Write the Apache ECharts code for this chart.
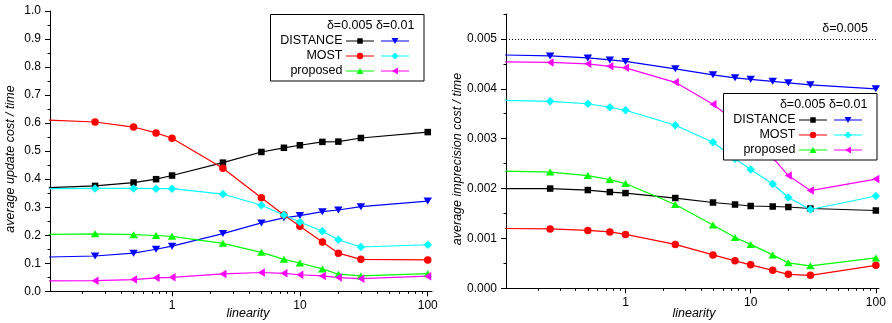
<!DOCTYPE html>
<html>
<head>
<meta charset="utf-8">
<title>Update and imprecision cost vs. linearity</title>
<script src="https://cdn.jsdelivr.net/npm/echarts@6/dist/echarts.min.js"></script>
<style>
  html, body { margin: 0; padding: 0; background: #fff; }
  #chart { width: 892px; height: 323px; }
</style>
</head>
<body>
<div id="chart"></div>
<script>
// ---- data ----
const linearity = [0.1, 0.25, 0.5, 0.75, 1, 2.5, 5, 7.5, 10, 15, 20, 30, 100];

// average update cost / time
const updDistance005 = [0.369, 0.376, 0.388, 0.400, 0.413, 0.459, 0.497, 0.512, 0.521, 0.533, 0.534, 0.547, 0.568];
const updDistance01  = [0.122, 0.126, 0.136, 0.150, 0.161, 0.206, 0.244, 0.262, 0.270, 0.284, 0.290, 0.302, 0.322];
const updMost005     = [0.611, 0.604, 0.586, 0.565, 0.546, 0.439, 0.334, 0.272, 0.232, 0.176, 0.136, 0.114, 0.112];
const updMost01      = [0.366, 0.367, 0.367, 0.366, 0.366, 0.347, 0.307, 0.272, 0.247, 0.214, 0.184, 0.158, 0.166];
const updProposed005 = [0.203, 0.205, 0.202, 0.199, 0.196, 0.171, 0.139, 0.114, 0.101, 0.080, 0.061, 0.055, 0.063];
const updProposed01  = [0.037, 0.038, 0.042, 0.048, 0.050, 0.062, 0.067, 0.064, 0.059, 0.055, 0.049, 0.045, 0.054];

// average imprecision cost / time
const impDistance005 = [0.00200, 0.00200, 0.00197, 0.00193, 0.00191, 0.00181, 0.00172, 0.00168, 0.00165, 0.00164, 0.00163, 0.00160, 0.00156];
const impDistance01  = [0.00468, 0.00466, 0.00462, 0.00458, 0.00455, 0.00440, 0.00428, 0.00422, 0.00419, 0.00415, 0.00412, 0.00408, 0.00400];
const impMost005     = [0.00120, 0.00119, 0.00116, 0.00113, 0.00108, 0.00088, 0.00067, 0.00055, 0.00047, 0.00036, 0.00028, 0.00026, 0.00046];
const impMost01      = [0.00377, 0.00375, 0.00370, 0.00363, 0.00357, 0.00327, 0.00293, 0.00260, 0.00238, 0.00209, 0.00182, 0.00158, 0.00185];
const impProposed005 = [0.00235, 0.00233, 0.00226, 0.00218, 0.00210, 0.00168, 0.00127, 0.00102, 0.00088, 0.00067, 0.00051, 0.00045, 0.00061];
const impProposed01  = [0.00454, 0.00453, 0.00450, 0.00445, 0.00442, 0.00413, 0.00369, 0.00335, 0.00305, 0.00262, 0.00226, 0.00196, 0.00219];

const methodNames = ['DISTANCE', 'MOST', 'proposed'];
const deltaLabels = ['δ=0.005', 'δ=0.01'];
const yTitles = ['average update cost / time', 'average imprecision cost / time'];
const xTitle = 'linearity';
const thresholdValue = 0.005;
const thresholdLabel = 'δ=0.005';

const xMajorTicks = [1, 10, 100];
const xMinorTicks = [0.2, 0.3, 0.4, 0.5, 0.6, 0.7, 0.8, 0.9, 2, 3, 4, 5, 6, 7, 8, 9, 20, 30, 40, 50, 60, 70, 80, 90];
const impMajorTicks = [0, 0.001, 0.002, 0.003, 0.004, 0.005];

// ---- styles ----
const FONT = '"Liberation Sans", Arial, Helvetica, sans-serif';
const SYM_DOWN = 'path://M0,0L10,0L5,8Z';
const SYM_LEFT = 'path://M8,0L8,10L0,5Z';
const seriesStyles = [
  { color: '#000000', symbol: 'rect',     size: 6.5 },        // DISTANCE δ=0.005
  { color: '#0000ff', symbol: SYM_DOWN,   size: [8.5, 7] },   // DISTANCE δ=0.01
  { color: '#ff0000', symbol: 'circle',   size: 7.5 },        // MOST δ=0.005
  { color: '#00ffff', symbol: 'diamond',  size: 8.5 },        // MOST δ=0.01
  { color: '#00ff00', symbol: 'triangle', size: [8.5, 7] },   // proposed δ=0.005
  { color: '#ff00ff', symbol: SYM_LEFT,   size: [7, 8.5] }    // proposed δ=0.01
];

const zip = (xs, ys) => xs.map((x, i) => [x, ys[i]]);

function lineSeries(name, values, style, xIdx, yIdx) {
  return {
    name: name,
    type: 'line',
    xAxisIndex: xIdx,
    yAxisIndex: yIdx,
    data: zip(linearity, values),
    symbol: style.symbol,
    symbolSize: style.size,
    showAllSymbol: true,
    clip: true,
    lineStyle: { color: style.color, width: 1.2 },
    itemStyle: { color: style.color, borderWidth: 0 },
    emphasis: { disabled: true },
    z: 3
  };
}

const updSets = [updDistance005, updDistance01, updMost005, updMost01, updProposed005, updProposed01];
const impSets = [impDistance005, impDistance01, impMost005, impMost01, impProposed005, impProposed01];
const seriesNames = [];
methodNames.forEach(m => deltaLabels.forEach(d => seriesNames.push(m + ' ' + d)));

// ---- axes ----
const X_MIN = 0.111;
const gridsDef = [
  { left: 50, top: 11, width: 382, height: 280.3, xMax: 108 },
  { left: 506, top: 14, width: 373, height: 274.3, xMax: 106 }
];

function xMainAxis(gi) {
  return {
    type: 'log', gridIndex: gi, min: X_MIN, max: gridsDef[gi].xMax, logBase: 10,
    position: 'bottom',
    axisLine: { show: true, onZero: false, lineStyle: { color: '#000', width: 1 } },
    axisTick: { show: true, length: 5, inside: false, customValues: xMajorTicks, lineStyle: { color: '#000', width: 1 } },
    axisLabel: { show: true, customValues: xMajorTicks, margin: 8, color: '#000', fontFamily: FONT, fontSize: 12,
                 formatter: v => String(Math.round(v)) },
    splitLine: { show: false }, minorTick: { show: false }, minorSplitLine: { show: false }
  };
}
function xMinorAxis(gi) {
  return {
    type: 'log', gridIndex: gi, min: X_MIN, max: gridsDef[gi].xMax, logBase: 10,
    position: 'bottom',
    axisLine: { show: false, onZero: false },
    axisTick: { show: true, length: 2.5, customValues: xMinorTicks, lineStyle: { color: '#000', width: 1 } },
    axisLabel: { show: false }, splitLine: { show: false }
  };
}

const yAxes = [
  {
    type: 'value', gridIndex: 0, min: 0, max: 1, interval: 0.1, position: 'left',
    axisLine: { show: true, onZero: false, lineStyle: { color: '#000', width: 1 } },
    axisTick: { show: true, length: 5, lineStyle: { color: '#000', width: 1 } },
    minorTick: { show: true, splitNumber: 2, length: 2.5, lineStyle: { color: '#000', width: 1 } },
    axisLabel: { margin: 9, color: '#000', fontFamily: FONT, fontSize: 12, formatter: v => v.toFixed(1) },
    splitLine: { show: false }, minorSplitLine: { show: false }
  },
  {
    type: 'value', gridIndex: 1, min: 0, max: 0.0055, interval: 0.001, position: 'left',
    axisLine: { show: true, onZero: false, lineStyle: { color: '#000', width: 1 } },
    axisTick: { show: true, length: 5, customValues: impMajorTicks, lineStyle: { color: '#000', width: 1 } },
    axisLabel: { margin: 9, customValues: impMajorTicks, color: '#000', fontFamily: FONT, fontSize: 12,
                 formatter: v => v.toFixed(3) },
    splitLine: { show: false }
  },
  {
    type: 'value', gridIndex: 1, min: 0, max: 0.0055, interval: 0.0005, position: 'left',
    axisLine: { show: false },
    axisTick: { show: true, length: 2.5, lineStyle: { color: '#000', width: 1 } },
    axisLabel: { show: false }, splitLine: { show: false }
  }
];

// ---- series ----
const series = [];
updSets.forEach((vals, i) => series.push(lineSeries(seriesNames[i], vals, seriesStyles[i], 0, 0)));
impSets.forEach((vals, i) => {
  const s = lineSeries(seriesNames[i], vals, seriesStyles[i], 2, 1);
  if (i === 0) {
    s.markLine = {
      silent: true, symbol: 'none', animation: false,
      lineStyle: { color: '#000', width: 1, type: [1, 2] },
      label: { show: true, position: 'insideEndTop', formatter: thresholdLabel, distance: [8, 4],
               color: '#000', fontFamily: FONT, fontSize: 12.5 },
      data: [[{ coord: [X_MIN, thresholdValue] }, { coord: [100, thresholdValue] }]]
    };
  }
  series.push(s);
});

// ---- axis titles (italic) ----
function axisTitle(text, cx, cy, rotated) {
  return { type: 'text', x: cx, y: cy, rotation: rotated ? Math.PI / 2 : 0,
           style: { text: text, align: 'center', verticalAlign: 'middle',
                    font: 'italic 12.5px ' + FONT, fill: '#000' }, z: 10 };
}

// ---- legend boxes (two columns: δ=0.005 / δ=0.01) ----
function markerShape(idx, cx, cy, z) {
  const c = seriesStyles[idx].color;
  const st = { fill: c, stroke: null };
  switch (idx) {
    case 0: return { type: 'rect', shape: { x: cx - 2.75, y: cy - 2.75, width: 5.5, height: 5.5 }, style: st, z: z };
    case 1: return { type: 'polygon', shape: { points: [[cx - 3.5, cy - 3], [cx + 3.5, cy - 3], [cx, cy + 3]] }, style: st, z: z };
    case 2: return { type: 'circle', shape: { cx: cx, cy: cy, r: 3.2 }, style: st, z: z };
    case 3: return { type: 'polygon', shape: { points: [[cx, cy - 3.6], [cx + 3.6, cy], [cx, cy + 3.6], [cx - 3.6, cy]] }, style: st, z: z };
    case 4: return { type: 'polygon', shape: { points: [[cx - 3.5, cy + 3], [cx + 3.5, cy + 3], [cx, cy - 3]] }, style: st, z: z };
    default: return { type: 'polygon', shape: { points: [[cx + 3, cy - 3.5], [cx + 3, cy + 3.5], [cx - 3, cy]] }, style: st, z: z };
  }
}

function legendBox(x0, y0) {
  const els = [];
  const W = 153.5, H = 66.5;
  els.push({ type: 'rect', shape: { x: x0, y: y0, width: W, height: H },
             style: { fill: '#fff', stroke: '#000', lineWidth: 1 }, z: 100 });
  els.push({ type: 'text', x: x0 + W - 9.5, y: y0 + 11,
             style: { text: deltaLabels.join(' '), align: 'right', verticalAlign: 'middle',
                      font: '12.5px ' + FONT, fill: '#000' }, z: 101 });
  const rowY = [26.5, 41.5, 56.5];
  const colX = [89.5, 124.5];
  methodNames.forEach((m, r) => {
    const cy = y0 + rowY[r];
    els.push({ type: 'text', x: x0 + 72, y: cy,
               style: { text: m, align: 'right', verticalAlign: 'middle', font: '12.5px ' + FONT, fill: '#000' }, z: 101 });
    colX.forEach((cxOff, c) => {
      const idx = r * 2 + c;
      const cx = x0 + cxOff;
      els.push({ type: 'line', shape: { x1: cx - 14, y1: cy, x2: cx + 14, y2: cy },
                 style: { stroke: seriesStyles[idx].color, lineWidth: 1 }, z: 101 });
      els.push(markerShape(idx, cx, cy, 102));
    });
  });
  return els;
}

const chart = echarts.init(document.getElementById('chart'), null, { renderer: 'canvas' });
chart.setOption({
  animation: false,
  backgroundColor: '#fff',
  textStyle: { fontFamily: FONT },
  grid: gridsDef.map(g => ({ left: g.left, top: g.top, width: g.width, height: g.height,
                             containLabel: false, outerBoundsMode: 'none' })),
  xAxis: [xMainAxis(0), xMinorAxis(0), xMainAxis(1), xMinorAxis(1)],
  yAxis: yAxes,
  series: series,
  graphic: [
    axisTitle(yTitles[0], 10.5, 159, true), axisTitle(yTitles[1], 457.5, 159, true),
    axisTitle(xTitle, 248, 313.5, false), axisTitle(xTitle, 694, 313.5, false)
  ].concat(legendBox(270.5, 14.5)).concat(legendBox(723.5, 93.5))
});
</script>
</body>
</html>
